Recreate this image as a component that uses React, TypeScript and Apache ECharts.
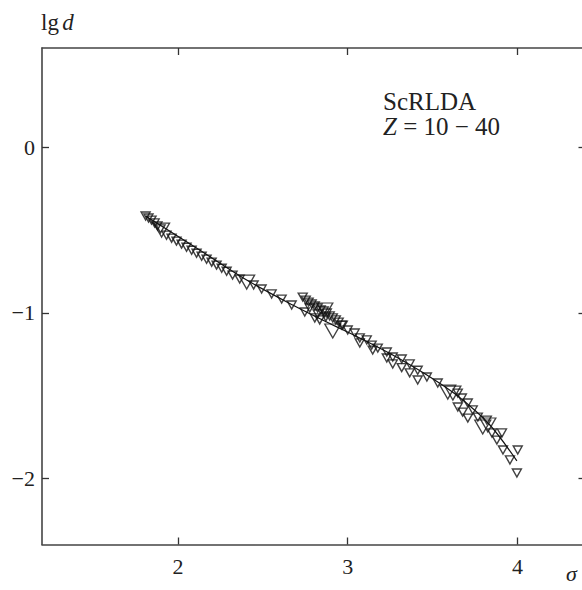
import React, { useEffect, useRef } from 'react';
import * as echarts from 'echarts';

const xTicks = [2, 3, 4];
const yTicks = [-2, -1, 0];

// small open (inverted) triangles: [sigma, lg d]
const smallPoints: number[][] = [
  [1.810, -0.415], [1.827, -0.427], [1.845, -0.440], [1.863, -0.457], [1.880, -0.475], [1.898, -0.493],
  [1.933, -0.531], [1.963, -0.549], [1.992, -0.567], [2.022, -0.585], [2.051, -0.604], [2.081, -0.622],
  [2.110, -0.640], [2.140, -0.658], [2.169, -0.676], [2.199, -0.694], [2.228, -0.712], [2.258, -0.731],
  [2.287, -0.749], [2.322, -0.772], [2.364, -0.796],
  [2.446, -0.832], [2.493, -0.856], [2.552, -0.886], [2.611, -0.917], [2.670, -0.953],
  [2.735, -0.905], [2.753, -0.923], [2.770, -0.935], [2.788, -0.947], [2.806, -0.959], [2.823, -0.971],
  [2.841, -0.983], [2.859, -0.989], [2.877, -1.001], [2.894, -1.019], [2.912, -1.031], [2.930, -1.043],
  [2.947, -1.056], [2.971, -1.074], [2.747, -0.995], [2.806, -1.031], [2.835, -1.043], [2.776, -0.971],
  [2.823, -1.007], [2.871, -1.025],
  [2.965, -1.074], [3.000, -1.104], [3.041, -1.122], [3.071, -1.152], [3.112, -1.164], [3.141, -1.195],
  [3.177, -1.213], [3.230, -1.237], [3.265, -1.267], [3.318, -1.279], [3.365, -1.309], [3.412, -1.347],
  [3.466, -1.388],
  [3.071, -1.182], [3.147, -1.225], [3.230, -1.273], [3.265, -1.309], [3.318, -1.331], [3.365, -1.363],
  [3.412, -1.406],
  [3.530, -1.424], [3.648, -1.485], [3.672, -1.515], [3.648, -1.569], [3.677, -1.600], [3.707, -1.545],
  [3.736, -1.587], [3.707, -1.636], [3.766, -1.630], [3.819, -1.648], [3.849, -1.726], [3.908, -1.726],
  [3.878, -1.769], [3.914, -1.829], [4.001, -1.829], [3.955, -1.889], [3.996, -1.968],
];

// large open (inverted) triangles
const bigPoints: number[][] = [
  [1.904, -0.500], [2.405, -0.814], [2.865, -0.983], [2.912, -1.110],
  [3.589, -1.479], [3.619, -1.485], [3.795, -1.690], [3.825, -1.678],
];

// fitted curve
const fitLine: number[][] = [
  [1.810, -0.415], [2.128, -0.621], [2.405, -0.802], [2.676, -0.953], [2.876, -1.056],
  [3.071, -1.152], [3.265, -1.255], [3.466, -1.376], [3.648, -1.503], [3.837, -1.678], [3.996, -1.895],
];

const SERIF = '"Liberation Serif", "DejaVu Serif", serif';
const fmt = (v: number) => (v < 0 ? '\u2212' + Math.abs(v) : String(v));

export default function App() {
  const ref = useRef<HTMLDivElement>(null);
  useEffect(() => {
    const chart = echarts.init(ref.current!, null, { renderer: 'svg' });
    const axisLine = { show: true, onZero: false, lineStyle: { color: '#444', width: 1.6 } };
    const tickStyle = { color: '#333', width: 1.3 };
    const mkX = (pos: string, labels: boolean) => ({
      type: 'value', min: 1.2, max: 4.4, position: pos,
      axisLine,
      axisTick: { show: true, inside: true, length: 7, customValues: xTicks, lineStyle: tickStyle },
      axisLabel: { show: labels, customValues: xTicks, formatter: fmt, fontSize: 22, color: '#222', fontFamily: SERIF, margin: 11 },
      splitLine: { show: false },
    });
    const mkY = (pos: string, labels: boolean, line: boolean) => ({
      type: 'value', min: -2.4, max: 0.6, position: pos,
      axisLine: { ...axisLine, show: line },
      axisTick: { show: true, inside: true, length: 7, customValues: yTicks, lineStyle: tickStyle },
      axisLabel: { show: labels, customValues: yTicks, formatter: fmt, fontSize: 22, color: '#222', fontFamily: SERIF, margin: 7 },
      splitLine: { show: false },
    });
    chart.setOption({
      animation: false,
      backgroundColor: '#fff',
      grid: { left: 42, top: 48, width: 543.5, height: 496.5, containLabel: false },
      xAxis: [mkX('bottom', true), mkX('top', false)],
      yAxis: [mkY('left', true, true), mkY('right', false, false)],
      series: [
        {
          type: 'line', data: fitLine, smooth: 0.3, showSymbol: false, symbol: 'none',
          lineStyle: { color: '#111', width: 1.2 }, z: 1,
        },
        {
          type: 'scatter', data: smallPoints, symbol: 'triangle', symbolRotate: 180, symbolSize: [9, 8],
          itemStyle: { color: 'rgba(0,0,0,0)', borderColor: '#111', borderWidth: 1.4 }, z: 2,
        },
        {
          type: 'scatter', data: bigPoints, symbol: 'triangle', symbolRotate: 180, symbolSize: [16, 14],
          itemStyle: { color: 'rgba(0,0,0,0)', borderColor: '#111', borderWidth: 1.3 }, z: 3,
        },
      ],
      graphic: [
        {
          type: 'text', left: 41, top: 11,
          style: {
            text: '{r|lg} {i|d}',
            rich: {
              r: { fontSize: 23, fontFamily: SERIF, fill: '#222' },
              i: { fontSize: 23, fontFamily: SERIF, fontStyle: 'italic', fill: '#222' },
            },
          },
        },
        {
          type: 'text', left: 383, top: 89,
          style: { text: 'ScRLDA', fontSize: 25, fontFamily: SERIF, fill: '#222' },
        },
        {
          type: 'text', left: 383, top: 114,
          style: {
            text: '{i|Z} = 10 \u2212 40',
            fontSize: 25, fontFamily: SERIF, fill: '#222',
            rich: { i: { fontSize: 25, fontFamily: SERIF, fontStyle: 'italic', fill: '#222' } },
          },
        },
        {
          type: 'text', left: 566, top: 562,
          style: { text: '\u03c3', fontSize: 22, fontFamily: SERIF, fontStyle: 'italic', fill: '#222' },
        },
      ],
    });
    return () => chart.dispose();
  }, []);
  return (
    <div style={{ position: 'absolute', left: 0, top: 0, width: 582, height: 590, overflow: 'hidden' }}>
      <div ref={ref} style={{ width: 600, height: 590 }} />
    </div>
  );
}
